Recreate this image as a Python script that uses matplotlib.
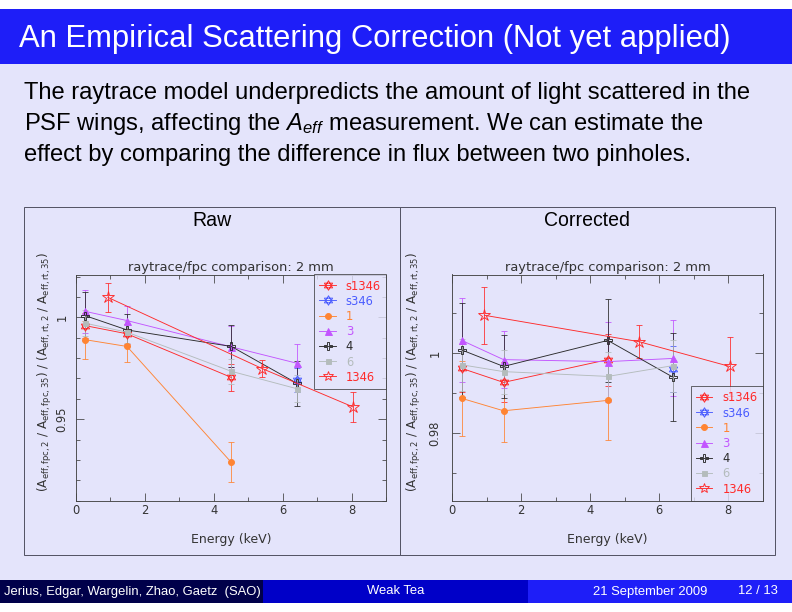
import numpy as np
import matplotlib
matplotlib.use("Agg")
import matplotlib.pyplot as plt
from matplotlib.path import Path
from matplotlib.patches import Rectangle
from matplotlib.ticker import MultipleLocator, FuncFormatter

plt.rcParams['mathtext.fontset'] = 'custom'
plt.rcParams['mathtext.rm'] = 'Liberation Sans'
plt.rcParams['mathtext.it'] = 'Liberation Sans:italic'
plt.rcParams['mathtext.bf'] = 'Liberation Sans:bold'

# ---------------- data ----------------
E_main = [0.277, 1.486, 4.51, 6.40]
E_star = [0.93, 5.41, 8.04]

series_names = ["s1346", "s346", "1", "3", "4", "6", "1346"]

# Raw panel
raw_s1346 = [0.9959, 0.9919, 0.9705]
raw_s346 = [0.9691]
raw_1 = [0.9890, 0.9857, 0.9288]
raw_3 = [1.0029, 0.9984, 0.9855, 0.9775]
raw_4 = [1.0008, 0.9938, 0.9857, 0.9677]
raw_6 = [0.9971, 0.9927, 0.9735, 0.9650]
raw_1346 = [1.0098, 0.9748, 0.9560]

# Corrected panel
cor_s1346 = [0.9962, 0.9927, 0.9984]
cor_s346 = [0.9960]
cor_1 = [0.9887, 0.9856, 0.9882]
cor_3 = [1.0032, 0.9984, 0.9979, 0.9987]
cor_4 = [1.0008, 0.9967, 1.0032, 0.9940]
cor_6 = [0.9971, 0.9954, 0.9942, 0.9969]
cor_1346 = [1.0095, 1.0029, 0.9967]

# error bars (half widths)
err_s1346 = [0.0060, 0.0050, 0.0065]
err_s346 = [0.0058]
err_1 = [0.0093, 0.0077, 0.0098]
err_3 = [0.0105, 0.0071, 0.0100, 0.0095]
err_4 = [0.0118, 0.0078, 0.0103, 0.0110]
err_6 = [0.0065, 0.0055, 0.0060, 0.0065]
err_1346 = [0.0071, 0.0042, 0.0073]

title = "An Empirical Scattering Correction (Not yet applied)"
body = ["The raytrace model underpredicts the amount of light scattered in the",
        r"PSF wings, affecting the $A_{eff}$ measurement. We can estimate the",
        "effect by comparing the difference in flux between two pinholes."]
panel_titles = ["Raw", "Corrected"]
plot_title = "raytrace/fpc comparison: 2 mm"
xlabel = "Energy (keV)"
ylabel = (r"$(\mathrm{A}_{\mathrm{eff,fpc,2}}\ /\ \mathrm{A}_{\mathrm{eff,fpc,35}})"
          r"\ /\ (\mathrm{A}_{\mathrm{eff,rt,2}}\ /\ \mathrm{A}_{\mathrm{eff,rt,35}})$")
footer = ["Jerius, Edgar, Wargelin, Zhao, Gaetz  (SAO)", "Weak Tea",
          "21 September 2009", "12 / 13"]

# ---------------- styling ----------------
W, H = 792, 612
BG = '#e4e4fb'
BLUE = '#1e1ef8'
TXT = '#333333'

def fx(x):
    return x / W

def fy(y):
    return 1 - y / H

# hexagram (star of David) marker
ang_up = np.deg2rad([90, 210, 330])
ang_dn = np.deg2rad([270, 30, 150])
verts = []
for a in (ang_up, ang_dn):
    pts = [(np.cos(t), np.sin(t)) for t in a]
    verts += pts + [pts[0]]
codes = [Path.MOVETO, Path.LINETO, Path.LINETO, Path.CLOSEPOLY] * 2
HEX = Path(verts, codes)

styles = {
    "s1346": dict(color='#ff2a2a', marker=HEX, ms=9.5, mfc='none'),
    "s346": dict(color='#4a5cff', marker=HEX, ms=9.5, mfc='none'),
    "1": dict(color='#ff8433', marker='o', ms=6),
    "3": dict(color='#c255ff', marker='^', ms=7),
    "4": dict(color='#2a2a2a', marker='P', ms=8.5, mfc='none', mew=0.9),
    "6": dict(color='#b4bcbc', marker='s', ms=5),
    "1346": dict(color='#ff2a2a', marker='*', ms=13, mfc='none', mew=0.9),
}

fig = plt.figure(figsize=(W / 72, H / 72), dpi=72)
fig.patch.set_facecolor('white')

# slide background
fig.add_artist(Rectangle((0, fy(603)), 1, fy(9.5) - fy(603), transform=fig.transFigure,
                         facecolor=BG, edgecolor='none', zorder=-10))
# title bar
fig.add_artist(Rectangle((0, fy(64)), 1, fy(9.5) - fy(64), transform=fig.transFigure,
                         facecolor=BLUE, edgecolor='none', zorder=-9))
fig.text(fx(19), fy(38.5), title, color='white', fontsize=31, family='Liberation Sans',
         va='center', ha='left')

# body text
for i, line in enumerate(body):
    fig.text(fx(24), fy(99.5 + 30.5 * i), line, color='black', fontsize=23.8,
             family='Liberation Sans', va='baseline', ha='left')

# footer
fcols = ['#00004a', '#0000c8', BLUE]
fx_edges = [0, 262.5, 528, 792]
for i in range(3):
    fig.add_artist(Rectangle((fx(fx_edges[i]), fy(603)), fx(fx_edges[i + 1] - fx_edges[i]),
                             fy(580) - fy(603), transform=fig.transFigure,
                             facecolor=fcols[i], edgecolor='none', zorder=-9))
fig.text(fx(4), fy(591.5), footer[0], color='white', fontsize=13, family='Liberation Sans',
         va='center', ha='left')
fig.text(fx(396), fy(591.5), footer[1], color='white', fontsize=13, family='Liberation Sans',
         va='center', ha='center')
fig.text(fx(593), fy(591.5), footer[2], color='white', fontsize=13, family='Liberation Sans',
         va='center', ha='left')
fig.text(fx(778), fy(591.5), footer[3], color='white', fontsize=13, family='Liberation Sans',
         va='center', ha='right')

# panel boxes
for x0, x1 in [(24, 400), (400, 775)]:
    fig.add_artist(Rectangle((fx(x0), fy(555)), fx(x1 - x0), fy(207) - fy(555),
                             transform=fig.transFigure, facecolor='none',
                             edgecolor='#555566', lw=1.0, zorder=-5))
fig.text(fx(212), fy(220.5), panel_titles[0], fontsize=19.5, family='Liberation Sans',
         va='center', ha='center', color='black')
fig.text(fx(587), fy(220.5), panel_titles[1], fontsize=19.5, family='Liberation Sans',
         va='center', ha='center', color='black')


def fmt(v, pos):
    return ('%g' % round(v, 4))


def make_panel(rect, data, ylim, ymajor, ypad, ylab_x, legend_loc):
    ax = fig.add_axes(rect)
    ax.set_facecolor('none')
    for s in ax.spines.values():
        s.set_color('#444444')
        s.set_linewidth(0.9)
    ax.set_xlim(0, 9)
    ax.set_ylim(*ylim)
    ax.xaxis.set_major_locator(MultipleLocator(2))
    ax.xaxis.set_minor_locator(MultipleLocator(1))
    ax.yaxis.set_major_locator(MultipleLocator(ymajor))
    ax.yaxis.set_minor_locator(MultipleLocator(0.01))
    ax.yaxis.set_major_formatter(FuncFormatter(fmt))
    ax.tick_params(which='both', direction='in', top=True, right=True, color='#444444',
                   labelcolor=TXT, labelsize=11.5)
    ax.tick_params(which='major', length=8, width=0.8)
    ax.tick_params(which='minor', length=4, width=0.8)
    ax.tick_params(axis='x', pad=3)
    ax.tick_params(axis='y', pad=ypad)
    for lab in ax.get_yticklabels():
        lab.set_rotation(90)
        lab.set_va('center')
    ax.set_title(plot_title, fontsize=13, color=TXT, pad=4)
    ax.set_xlabel(xlabel, fontsize=12.5, color=TXT, va='center')
    ax.xaxis.set_label_coords(0.5, -0.173)
    ax.set_ylabel(ylabel, fontsize=12, color=TXT, math_fontfamily='dejavusans',
                  va='center')
    ax.yaxis.set_label_coords(ylab_x, 0.57)

    handles = []
    for name in series_names:
        x, y, e = data[name]
        st = dict(styles[name])
        c = st.pop('color')
        mk = st.pop('marker')
        ms = st.pop('ms')
        mfc = st.pop('mfc', c)
        mew = st.pop('mew', 0.9)
        ls = '-' if len(x) > 1 else 'none'
        ax.errorbar(x, y, yerr=e, fmt='none', ecolor=c, elinewidth=0.8, capsize=3,
                    capthick=0.8, zorder=2)
        ax.plot(x, y, ls=ls, lw=0.9, color=c, marker=mk, ms=ms, mfc=mfc,
                mec=c, mew=mew, zorder=3, label=name)
        handles.append(ax.plot([], [], ls='-', lw=0.9, color=c, marker=mk,
                               ms=min(ms, 10), mfc=mfc, mec=c, mew=mew, label=name)[0])
    leg = ax.legend(handles=handles, loc=legend_loc, borderaxespad=0, fontsize=11.5,
                    labelcolor='linecolor', frameon=True, fancybox=False,
                    handlelength=1.4, handletextpad=0.9, labelspacing=0.19,
                    borderpad=0.45, handleheight=0.9)
    leg.get_frame().set_facecolor(BG)
    leg.get_frame().set_edgecolor('#333333')
    leg.get_frame().set_linewidth(0.9)
    return ax


raw = {
    "s1346": (E_main[:3], raw_s1346, err_s1346),
    "s346": (E_main[3:], raw_s346, err_s346),
    "1": (E_main[:3], raw_1, err_1),
    "3": (E_main, raw_3, err_3),
    "4": (E_main, raw_4, err_4),
    "6": (E_main, raw_6, err_6),
    "1346": (E_star, raw_1346, err_1346),
}
cor = {
    "s1346": (E_main[:3], cor_s1346, err_s1346),
    "s346": (E_main[3:], cor_s346, err_s346),
    "1": (E_main[:3], cor_1, err_1),
    "3": (E_main, cor_3, err_3),
    "4": (E_main, cor_4, err_4),
    "6": (E_main, cor_6, err_6),
    "1346": (E_star, cor_1346, err_1346),
}

bot = fy(500.7)
hgt = (500.7 - 274.5) / H
make_panel([fx(75.7), bot, (386.2 - 75.7) / W, hgt], raw, (0.910, 1.021), 0.05, 7,
           -0.1, 'upper right')
make_panel([fx(452.3), bot, (762.7 - 452.3) / W, hgt], cor, (0.9631, 1.0197), 0.02, 11,
           -0.122, 'lower right')

fig.savefig('out.png', dpi=72, facecolor='white')
